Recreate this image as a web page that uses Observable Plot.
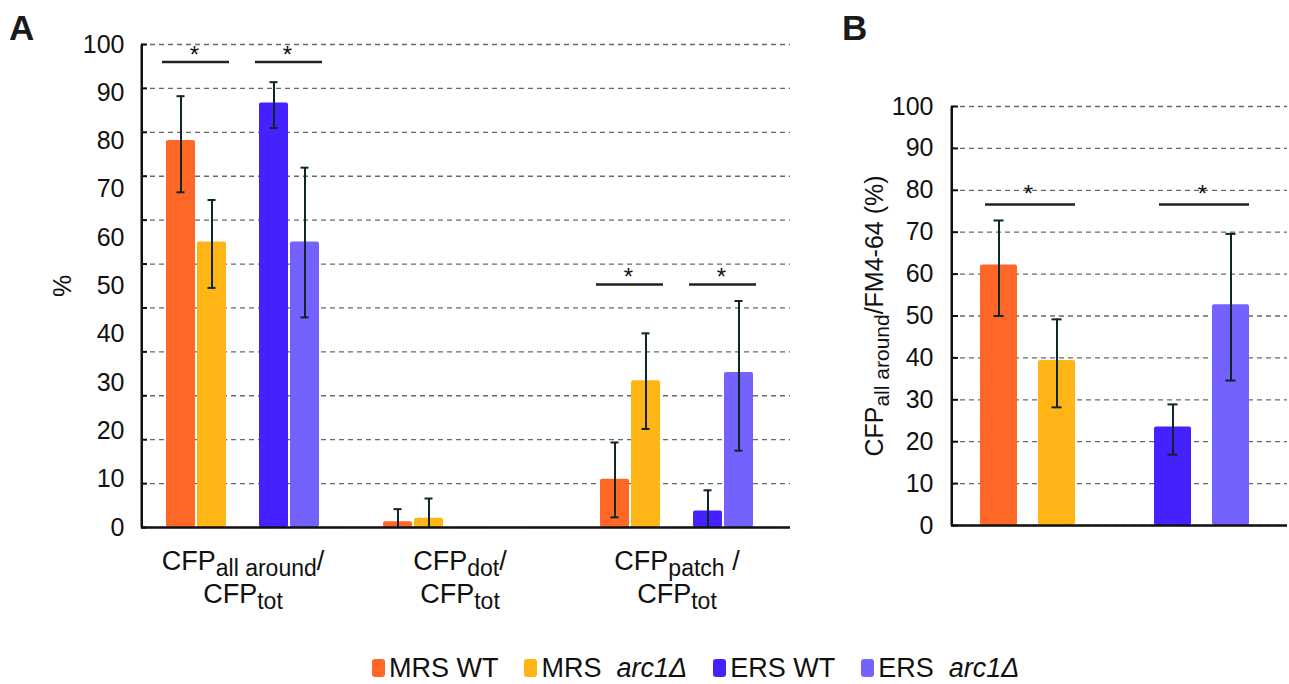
<!DOCTYPE html>
<html><head><meta charset="utf-8">
<script src="https://cdn.jsdelivr.net/npm/d3@7"></script>
<script src="https://cdn.jsdelivr.net/npm/@observablehq/plot@0.6"></script>
<style>
body{margin:0;background:#fff;font-family:"Liberation Sans",Arial,sans-serif;}
#wrap{position:relative;width:1289px;height:684px;overflow:hidden;background:#fff;}
.panel{position:absolute;top:0;}
.letter{position:absolute;font-weight:bold;font-size:35px;line-height:35px;color:#1a1a1a;}
#legend{position:absolute;top:653px;left:372px;display:flex;gap:26px;font-size:27px;line-height:30px;color:#111;white-space:nowrap;}
.item{display:flex;align-items:center;}
.sw{display:inline-block;width:13px;height:18px;border-radius:3px;margin-right:4px;}
</style></head><body>
<div id="wrap">
  <div class="letter" style="left:9px;top:10px">A</div>
  <div class="letter" style="left:842px;top:10px">B</div>
  <div id="panelA" class="panel" style="left:0px"></div>
  <div id="panelB" class="panel" style="left:840px"></div>
  <div id="legend"></div>
</div>
<script>
// ---------- data ----------
const seriesNames = ["MRS WT", "MRS arc1Δ", "ERS WT", "ERS arc1Δ"];
const seriesColors = ["#ff6727", "#ffb515", "#4421ff", "#7462ff"];
const yTicks = [0, 10, 20, 30, 40, 50, 60, 70, 80, 90, 100];

// Panel A: categories
const groupsA = ["all around", "dot", "patch"];
const labelsA1 = ["CFP_{all around}/", "CFP_{dot}/", "CFP_{patch} /"];
const labelsA2 = ["CFP_{tot}", "CFP_{tot}", "CFP_{tot}"];
// Panel A: means per series (across groupsA)
const meanA_mrsWT  = [80.1, 1.2, 10.0];
const meanA_mrsArc = [59.1, 1.9, 30.4];
const meanA_ersWT  = [87.9, 0, 3.4];
const meanA_ersArc = [59.1, 0, 32.1];
// Panel A: error bar ends (null = no error bar)
const hiA_mrsWT  = [89.3, 3.8, 17.6];
const loA_mrsWT  = [69.4, 0, 2.1];
const hiA_mrsArc = [67.8, 6.0, 40.2];
const loA_mrsArc = [49.6, 0, 20.4];
const hiA_ersWT  = [92.2, null, 7.7];
const loA_ersWT  = [82.7, null, 0];
const hiA_ersArc = [74.5, null, 46.9];
const loA_ersArc = [43.5, null, 15.9];
// Panel A: significance bars
const sigGroupA = ["all around", "all around", "patch", "patch"];
const sigFromA = ["MRS WT", "ERS WT", "MRS WT", "ERS WT"];
const sigToA = ["MRS arc1Δ", "ERS arc1Δ", "MRS arc1Δ", "ERS arc1Δ"];
const sigYA = [96.4, 96.4, 50.3, 50.3];

// Panel B
const meanB = [62.2, 39.4, 23.5, 52.7];
const hiB = [72.8, 49.2, 28.9, 69.6];
const loB = [50.0, 28.2, 16.9, 34.6];
const sigFromB = ["MRS WT", "ERS WT"];
const sigToB = ["MRS arc1Δ", "ERS arc1Δ"];
const sigYB = [76.6, 76.6];
const yLabelB = "CFP_{all around}/FM4-64 (%)";

// ---------- helpers ----------
const meansA = [meanA_mrsWT, meanA_mrsArc, meanA_ersWT, meanA_ersArc];
const hisA = [hiA_mrsWT, hiA_mrsArc, hiA_ersWT, hiA_ersArc];
const losA = [loA_mrsWT, loA_mrsArc, loA_ersWT, loA_ersArc];
const key = (g, s) => g + "|" + s;
const slotOrder = ["pad0", 0, 1, "gap", 2, 3, "pad1"];
const errColor = "#0f2626";
const gridColor = "#5e6c6c";
const axisColor = "#111";
const font = "Liberation Sans, Arial, sans-serif";

function subscriptify(svg, subSize, shift) {
  svg.querySelectorAll("text").forEach(t => {
    const targets = t.querySelector("tspan") ? Array.from(t.querySelectorAll("tspan")) : [t];
    targets.forEach(el => {
      const s = el.textContent;
      if (!s.includes("_{")) return;
      while (el.firstChild) el.removeChild(el.firstChild);
      const add = (txt, dy, size) => {
        const ts = document.createElementNS("http://www.w3.org/2000/svg", "tspan");
        if (dy) ts.setAttribute("dy", dy);
        if (size) ts.setAttribute("font-size", size);
        ts.textContent = txt;
        el.appendChild(ts);
      };
      const re = /_\{([^}]*)\}/g;
      let last = 0, m, shifted = false;
      while ((m = re.exec(s))) {
        if (m.index > last) { add(s.slice(last, m.index), shifted ? -shift : 0, null); shifted = false; }
        add(m[1], shifted ? 0 : shift, subSize); shifted = true;
        last = re.lastIndex;
      }
      if (last < s.length) add(s.slice(last), shifted ? -shift : 0, null);
    });
  });
}

// ---------- Panel A ----------
{
  const width = 800, height = 620;
  const mL = 141, mR = 10, mT = 44, mB = 93;
  const frameW = width - mL - mR;
  const step = 31, pad = 0.065, r0 = 133.5;
  const domain = groupsA.flatMap(g => slotOrder.map(s => key(g, typeof s === "number" ? seriesNames[s] : s)));
  const rows = groupsA.flatMap((g, gi) => seriesNames.map((s, si) => ({
    key: key(g, s), series: s, value: meansA[si][gi], hi: hisA[si][gi], lo: losA[si][gi]
  })));
  const err = rows.filter(d => d.hi != null);
  const gridA = d3.range(12).map(k => k * 100 / 11); // 11 gridline intervals as in the figure
  const sig = d3.range(sigYA.length);
  const bw = step * (1 - pad);
  const capInset = (bw - 8) / 2;
  const chart = Plot.plot({
    width, height, marginLeft: mL, marginRight: mR, marginTop: mT, marginBottom: mB,
    style: {fontFamily: font, fontSize: "25px", color: "#111", background: "transparent", overflow: "visible"},
    x: {domain, range: [r0, r0 + step * domain.length], paddingInner: pad, paddingOuter: pad / 2, axis: null},
    y: {domain: [0, 100], ticks: yTicks, tickSize: 0, tickPadding: 17, tickFormat: d => String(d),
        label: "%", labelAnchor: "center", labelOffset: 88, labelArrow: "none"},
    color: {domain: seriesNames, range: seriesColors},
    marks: [
      Plot.ruleY(gridA, {y: d => d, stroke: gridColor, strokeWidth: 1.3, strokeDasharray: "5,4"}),
      Plot.ruleY(gridA, {y: d => d, stroke: axisColor, strokeWidth: 2, insetRight: frameW - 6}),
      Plot.barY(rows.filter(d => d.value > 0), {x: "key", y: "value", fill: "series", rx: 2}),
      Plot.ruleX(err, {x: "key", y1: "lo", y2: "hi", stroke: errColor, strokeWidth: 2}),
      Plot.ruleY(err, {x1: "key", x2: "key", y: "hi", stroke: errColor, strokeWidth: 2, insetLeft: capInset, insetRight: capInset}),
      Plot.ruleY(err.filter(d => d.lo > 0), {x1: "key", x2: "key", y: "lo", stroke: errColor, strokeWidth: 2, insetLeft: capInset, insetRight: capInset}),
      Plot.ruleY(sig, {x1: i => key(sigGroupA[i], sigFromA[i]), x2: i => key(sigGroupA[i], sigToA[i]), y: i => sigYA[i],
        stroke: "#222", strokeWidth: 2.5, insetLeft: -4, insetRight: -3}),
      Plot.text(sig, {x: i => key(sigGroupA[i], sigFromA[i]), y: i => sigYA[i], text: () => "*",
        dx: step / 2 - 2, dy: -7, fontSize: 24, fill: "#111"}),
      Plot.text(d3.range(groupsA.length), {x: i => key(groupsA[i], "gap"), y: () => 0, text: i => labelsA1[i], dy: 34, fontSize: 27, fill: "#111"}),
      Plot.text(d3.range(groupsA.length), {x: i => key(groupsA[i], "gap"), y: () => 0, text: i => labelsA2[i], dy: 67, fontSize: 27, fill: "#111"}),
      Plot.ruleY([0], {stroke: axisColor, strokeWidth: 2.5}),
      Plot.frame({fill: axisColor, stroke: "none", insetLeft: -1, insetRight: frameW - 1.5})
    ]
  });
  subscriptify(chart, 23, 6);
  document.getElementById("panelA").appendChild(chart);
}

// ---------- Panel B ----------
{
  const width = 449, height = 620;
  const mL = 111, mR = 2, mT = 106, mB = 95;
  const frameW = width - mL - mR;
  const step = 58.6, pad = 0.37, r0 = 127.5;
  const domain = [0, 1, "gap", 2, 3].map(s => key("B", typeof s === "number" ? seriesNames[s] : s));
  const rows = seriesNames.map((s, si) => ({key: key("B", s), series: s, value: meanB[si], hi: hiB[si], lo: loB[si]}));
  const sig = d3.range(sigYB.length);
  const bw = step * (1 - pad);
  const capInset = (bw - 10) / 2;
  const chart = Plot.plot({
    width, height, marginLeft: mL, marginRight: mR, marginTop: mT, marginBottom: mB,
    style: {fontFamily: font, fontSize: "25px", color: "#111", background: "transparent", overflow: "visible"},
    x: {domain, range: [r0, r0 + step * domain.length], paddingInner: pad, paddingOuter: pad / 2, axis: null},
    y: {domain: [0, 100], ticks: yTicks, tickSize: 0, tickPadding: 18, tickFormat: d => String(d),
        label: yLabelB, labelAnchor: "center", labelOffset: 86, labelArrow: "none"},
    color: {domain: seriesNames, range: seriesColors},
    marks: [
      Plot.ruleY(yTicks, {y: d => d, stroke: gridColor, strokeWidth: 1.3, strokeDasharray: "5,4"}),
      Plot.ruleY(yTicks, {y: d => d, stroke: axisColor, strokeWidth: 2, insetRight: frameW - 7}),
      Plot.barY(rows, {x: "key", y: "value", fill: "series", rx: 2}),
      Plot.ruleX(rows, {x: "key", y1: "lo", y2: "hi", stroke: errColor, strokeWidth: 2}),
      Plot.ruleY(rows, {x1: "key", x2: "key", y: "hi", stroke: errColor, strokeWidth: 2, insetLeft: capInset, insetRight: capInset}),
      Plot.ruleY(rows, {x1: "key", x2: "key", y: "lo", stroke: errColor, strokeWidth: 2, insetLeft: capInset, insetRight: capInset}),
      Plot.ruleY(sig, {x1: i => key("B", sigFromB[i]), x2: i => key("B", sigToB[i]), y: i => sigYB[i],
        stroke: "#222", strokeWidth: 2.5, insetLeft: 5, insetRight: 0}),
      Plot.text(sig, {x: i => key("B", sigFromB[i]), y: i => sigYB[i], text: () => "*",
        dx: step / 2, dy: -10, fontSize: 24, fill: "#111"}),
      Plot.ruleY([0], {stroke: axisColor, strokeWidth: 2.5}),
      Plot.frame({fill: axisColor, stroke: "none", insetLeft: -1, insetRight: frameW - 1.5})
    ]
  });
  subscriptify(chart, 21, 6);
  document.getElementById("panelB").appendChild(chart);
}

// ---------- Legend ----------
{
  const legend = d3.select("#legend");
  seriesNames.forEach((s, i) => {
    const item = legend.append("div").attr("class", "item");
    item.append("span").attr("class", "sw").style("background", seriesColors[i]);
    const lab = item.append("span");
    const parts = s.split(" ");
    if (parts[1] === "arc1Δ") {
      lab.append("span").text(parts[0] + "\u00a0 ");
      lab.append("i").text(parts[1]);
    } else {
      lab.text(s);
    }
  });
}
</script>
</body></html>
